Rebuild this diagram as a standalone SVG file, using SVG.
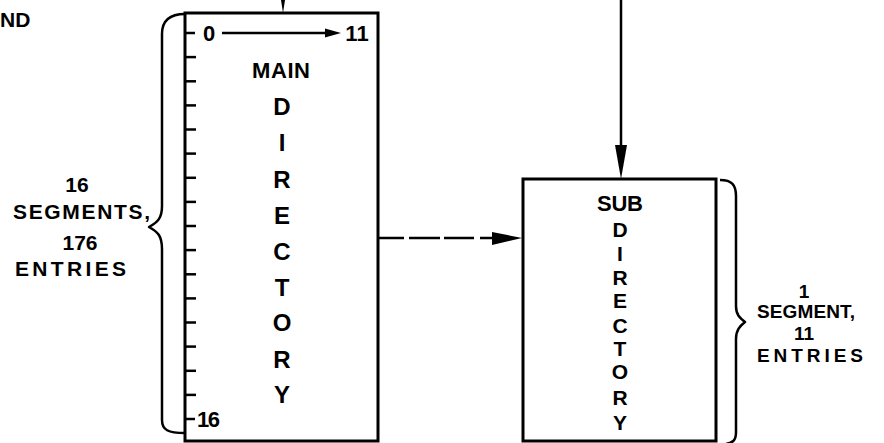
<svg xmlns="http://www.w3.org/2000/svg" width="884" height="443" viewBox="0 0 884 443">
  <style>
    .box { fill: #fff; stroke: #000; stroke-width: 3; }
    .line { fill: none; stroke: #000; stroke-width: 2.5; }
    .brace { fill: none; stroke: #000; stroke-width: 2.5; stroke-linejoin: round; }
    .tick { stroke: #000; stroke-width: 2.5; }
    .head { fill: #000; }
    text { font-family: "Liberation Sans", Arial, sans-serif; font-weight: bold; fill: #000; }
    .s19 { font-size: 19px; }
    .s21 { font-size: 21px; }
    .s22 { font-size: 22px; }
    .s24 { font-size: 24px; }
    .mid { text-anchor: middle; }
  </style>

  <!-- clipped caption at the top-left edge -->
  <text x="0" y="27" class="s21">ND</text>

  <!-- connectors -->
  <g id="connectors">
    <!-- incoming arrow into the main directory (only the tip is visible) -->
    <polygon class="head" points="281,0 285,0 283,13"/>
    <!-- incoming arrow into the sub directory -->
    <line class="line" x1="621" y1="0" x2="621" y2="150"/>
    <polygon class="head" points="615,145 627,145 621,179"/>
    <!-- dashed link main -> sub -->
    <line class="line" x1="378" y1="238" x2="494" y2="238" stroke-dasharray="26 5 31 4 30 6 14 0"/>
    <polygon class="head" points="492,232 522,238 492,245"/>
  </g>

  <!-- main directory -->
  <g id="main-directory">
    <rect class="box" x="185" y="13" width="193" height="428"/>
    <g class="tick">
      <line x1="185" y1="33" x2="195" y2="33"/>
      <line x1="185" y1="57.1" x2="196" y2="57.1"/>
      <line x1="185" y1="81.3" x2="196" y2="81.3"/>
      <line x1="185" y1="105.4" x2="196" y2="105.4"/>
      <line x1="185" y1="129.5" x2="196" y2="129.5"/>
      <line x1="185" y1="153.6" x2="196" y2="153.6"/>
      <line x1="185" y1="177.8" x2="196" y2="177.8"/>
      <line x1="185" y1="201.9" x2="196" y2="201.9"/>
      <line x1="185" y1="226" x2="196" y2="226"/>
      <line x1="185" y1="250.1" x2="196" y2="250.1"/>
      <line x1="185" y1="274.3" x2="196" y2="274.3"/>
      <line x1="185" y1="298.4" x2="196" y2="298.4"/>
      <line x1="185" y1="322.5" x2="196" y2="322.5"/>
      <line x1="185" y1="346.6" x2="196" y2="346.6"/>
      <line x1="185" y1="370.8" x2="196" y2="370.8"/>
      <line x1="185" y1="394.9" x2="196" y2="394.9"/>
      <line x1="185" y1="419" x2="195" y2="419"/>
    </g>
    <!-- entry range arrow 0 -> 11 -->
    <line class="line" x1="222" y1="33" x2="328" y2="33"/>
    <polygon class="head" points="325,28.5 341,33 325,37.5"/>
    <text x="209" y="41" class="s22 mid">0</text>
    <text x="357" y="41" class="s22 mid">11</text>
    <text x="197" y="427" class="s22" textLength="23" lengthAdjust="spacing">16</text>

    <text x="252" y="78" class="s22" textLength="58" lengthAdjust="spacing">MAIN</text>
    <text x="282" y="115" class="s24 mid">D</text>
    <text x="282" y="151" class="s24 mid">I</text>
    <text x="282" y="188" class="s24 mid">R</text>
    <text x="282" y="224" class="s24 mid">E</text>
    <text x="282" y="260" class="s24 mid">C</text>
    <text x="282" y="296" class="s24 mid">T</text>
    <text x="282" y="331" class="s24 mid">O</text>
    <text x="282" y="368" class="s24 mid">R</text>
    <text x="282" y="403" class="s24 mid">Y</text>
  </g>

  <!-- sub directory -->
  <g id="sub-directory">
    <rect class="box" x="523" y="179" width="193" height="262"/>
    <text x="597" y="211" class="s22" textLength="46" lengthAdjust="spacing">SUB</text>
    <text x="620" y="237" class="s21 mid">D</text>
    <text x="620" y="261" class="s21 mid">I</text>
    <text x="620" y="285" class="s21 mid">R</text>
    <text x="620" y="308" class="s21 mid">E</text>
    <text x="620" y="333" class="s21 mid">C</text>
    <text x="620" y="356" class="s21 mid">T</text>
    <text x="620" y="379" class="s21 mid">O</text>
    <text x="620" y="405" class="s21 mid">R</text>
    <text x="620" y="430" class="s21 mid">Y</text>
  </g>

  <!-- brace and size note for the main directory -->
  <g id="main-size">
    <path class="brace" d="M185,14 C170,14 162,20 162,34 L162,206 C162,218 158,222 149,227 C158,232 162,236 162,249 L162,420 C162,430 168,433 185,433"/>
    <text x="77" y="192" class="s21 mid">16</text>
    <text x="13" y="219" class="s21" textLength="137" lengthAdjust="spacing">SEGMENTS,</text>
    <text x="80" y="250" class="s21 mid">176</text>
    <text x="15" y="276" class="s21" textLength="111" lengthAdjust="spacing">ENTRIES</text>
  </g>

  <!-- brace and size note for the sub directory -->
  <g id="sub-size">
    <path class="brace" d="M720,180 C732,180 736,185 736,196 L736,306 C736,315 740,318 745,322 C740,326 736,330 736,339 L736,432 C736,440 733,443 726,444"/>
    <text x="804" y="298" class="s19 mid">1</text>
    <text x="757" y="318" class="s19" textLength="98" lengthAdjust="spacing">SEGMENT,</text>
    <text x="804" y="340" class="s19 mid">11</text>
    <text x="757" y="362" class="s19" textLength="106" lengthAdjust="spacing">ENTRIES</text>
  </g>
</svg>
